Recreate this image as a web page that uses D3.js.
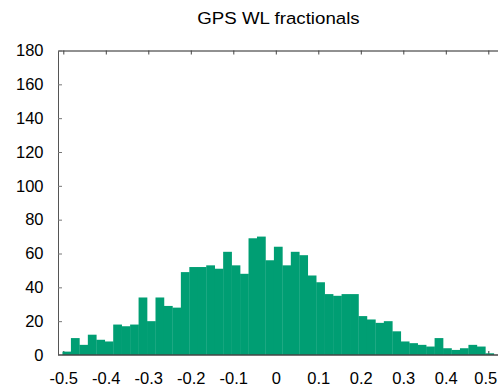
<!DOCTYPE html>
<html>
<head>
<meta charset="utf-8">
<script src="https://cdn.jsdelivr.net/npm/d3@7"></script>
<style>
  html, body { margin: 0; padding: 0; background: #fff; }
  svg { display: block; font-family: "Liberation Sans", Arial, Helvetica, sans-serif; }
</style>
</head>
<body>
<svg id="chart" width="498" height="387"></svg>
<script>
// Histogram of GPS wide-lane fractional parts: counts per bin
const counts = [
  2, 10, 6, 12, 9, 8, 18, 17, 18, 34,
  20, 34, 29, 28, 49, 52, 52, 53, 51, 61,
  53, 48, 69, 70, 56, 64, 53, 61, 59, 47,
  43, 36, 35, 36, 36, 23, 21, 19, 20, 14,
  8, 7, 6, 5, 10, 4, 3, 4, 6, 5,
  1
];
const binStart = -0.502;
const binWidth = 0.0199;

const xTicks = [-0.5, -0.4, -0.3, -0.2, -0.1, 0, 0.1, 0.2, 0.3, 0.4, 0.5];
const xTickLabels = ["-0.5", "-0.4", "-0.3", "-0.2", "-0.1", "0", "0.1", "0.2", "0.3", "0.4", "0.5"];
const yTicks = [0, 20, 40, 60, 80, 100, 120, 140, 160, 180];
const titleText = "GPS WL fractionals";

const svg = d3.select("#chart");
const plotLeft = 58, plotRight = 498, plotTop = 50.5, plotBottom = 355;

const x = d3.scaleLinear().domain([-0.5125, 0.5228]).range([plotLeft, plotRight]);
const y = d3.scaleLinear().domain([0, 180]).range([plotBottom, plotTop]);

const bins = counts.map((c, i) => ({
  x0: binStart + i * binWidth,
  x1: binStart + (i + 1) * binWidth,
  n: c
}));

// Bottom ticks sit underneath the bars
const gBottom = svg.append("g")
  .attr("transform", `translate(0,${plotBottom})`)
  .call(d3.axisBottom(x)
    .tickValues(xTicks)
    .tickFormat((d, i) => xTickLabels[i])
    .tickSize(-4)
    .tickSizeOuter(0)
    .tickPadding(17));
gBottom.select(".domain").remove();
gBottom.selectAll(".tick line").attr("stroke", "#333");
gBottom.selectAll("text").attr("font-size", 16.5).attr("fill", "#000");
// keep the last label inside the right edge
gBottom.selectAll(".tick text").filter((d, i, n) => i === n.length - 1).attr("dx", -3);
gBottom.attr("font-family", null);

// Bars
svg.append("g")
  .selectAll("rect")
  .data(bins)
  .join("rect")
  .attr("x", d => x(d.x0))
  .attr("width", d => x(d.x1) - x(d.x0) + 0.3)
  .attr("y", d => y(d.n))
  .attr("height", d => y(0) - y(d.n))
  .attr("fill", "#009e73");

// Baseline drawn over the bars
svg.append("line")
  .attr("x1", plotLeft).attr("x2", plotRight)
  .attr("y1", plotBottom).attr("y2", plotBottom)
  .attr("stroke", "#444").attr("stroke-width", 1.5);

// Top border with inward ticks
const gTop = svg.append("g")
  .attr("transform", `translate(0,${plotTop})`)
  .call(d3.axisTop(x)
    .tickValues(xTicks)
    .tickFormat("")
    .tickSize(-4)
    .tickSizeOuter(0));
gTop.select(".domain").attr("stroke", "#222");
gTop.selectAll(".tick line").attr("stroke", "#444");

// Left axis with inward ticks
const gLeft = svg.append("g")
  .attr("transform", `translate(${plotLeft},0)`)
  .call(d3.axisLeft(y)
    .tickValues(yTicks)
    .tickSize(-4)
    .tickSizeOuter(0)
    .tickPadding(14.5));
gLeft.select(".domain").attr("stroke", "#555");
gLeft.selectAll(".tick line").attr("stroke", "#777");
gLeft.selectAll("text").attr("font-size", 16.5).attr("fill", "#000");
gLeft.attr("font-family", null);

// Title, slightly widened
svg.append("text")
  .attr("transform", "translate(278.5,23.5) scale(1.1,1)")
  .attr("text-anchor", "middle")
  .attr("font-size", 17)
  .attr("fill", "#000")
  .text(titleText);
</script>
</body>
</html>
